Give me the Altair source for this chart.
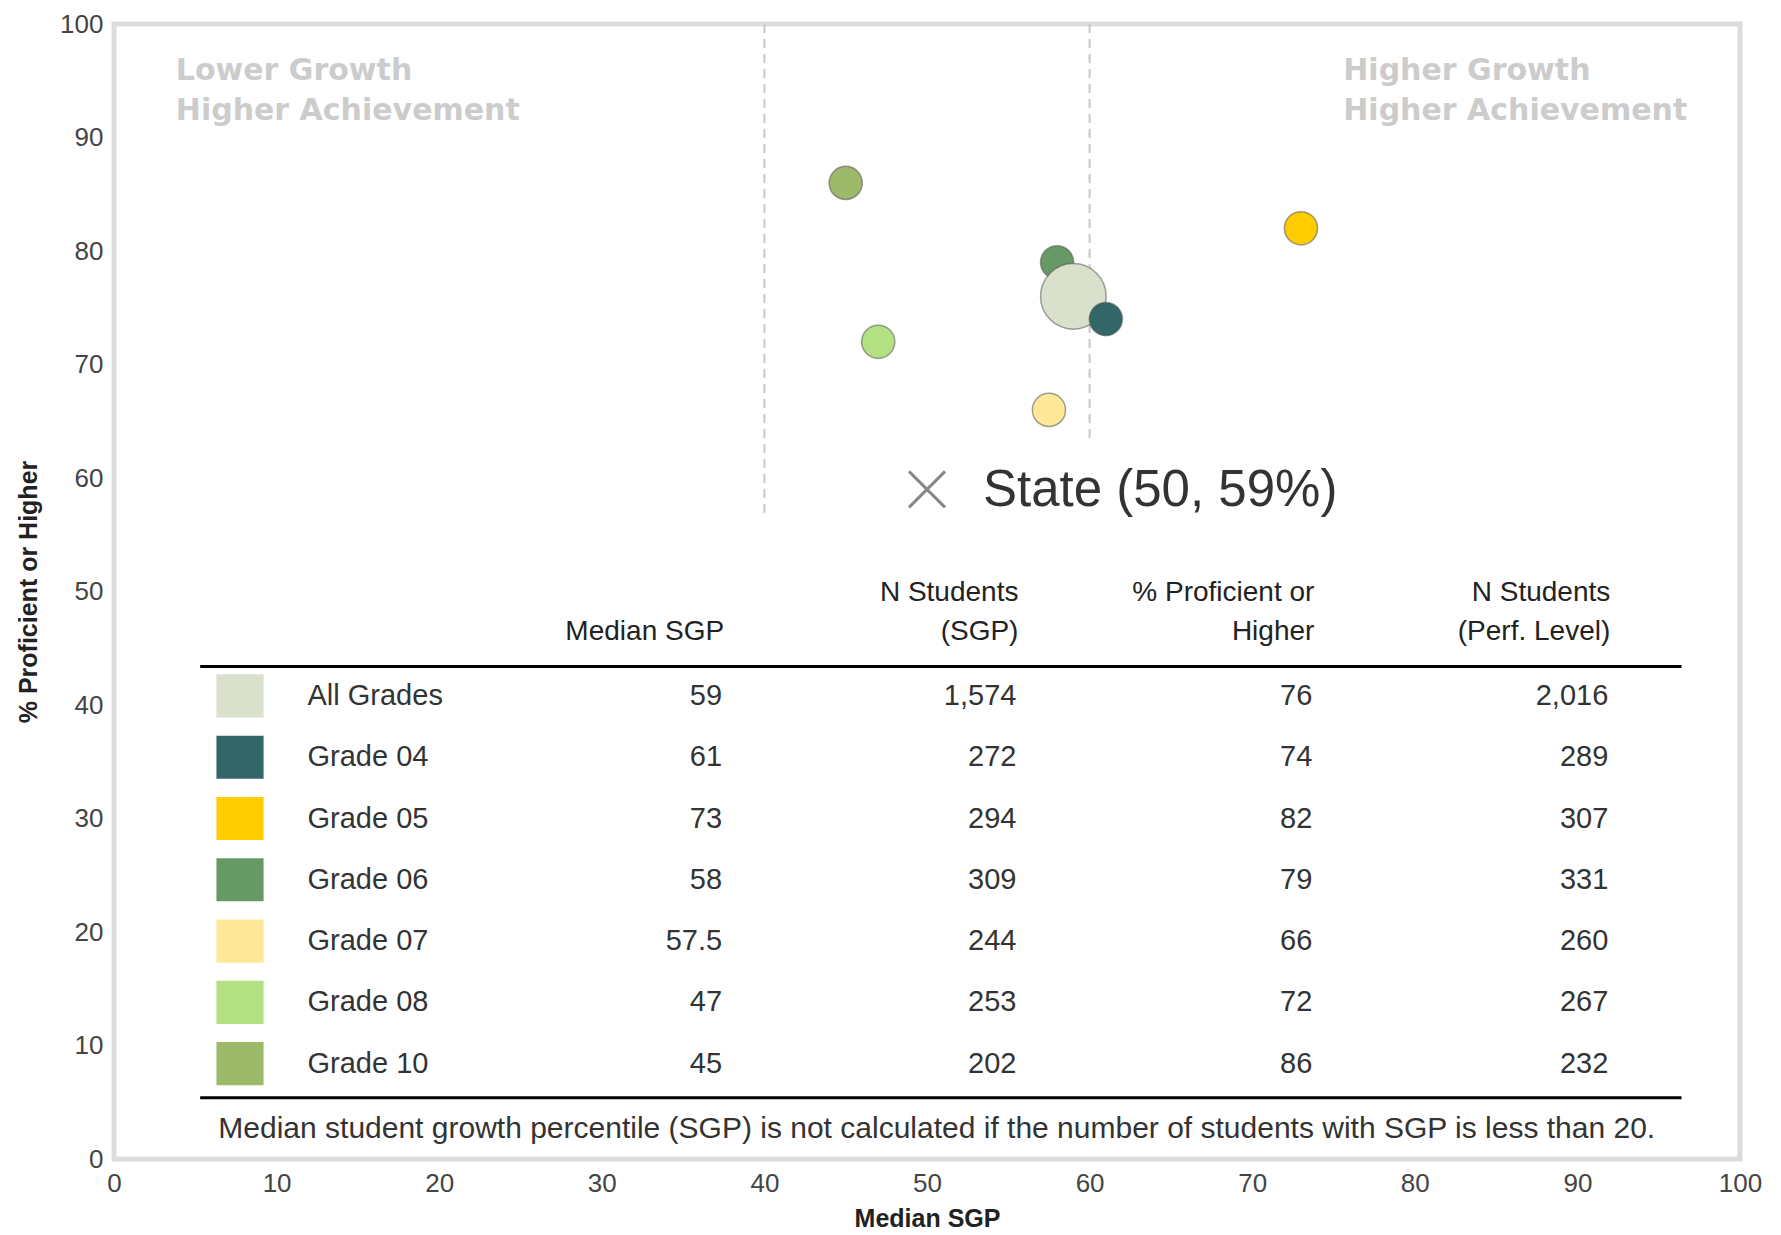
import altair as alt
import pandas as pd

# ---------------- data ----------------
grades = ["All Grades", "Grade 04", "Grade 05", "Grade 06", "Grade 07", "Grade 08", "Grade 10"]
median_sgp = [59, 61, 73, 58, 57.5, 47, 45]
n_students_sgp = [1574, 272, 294, 309, 244, 253, 202]
pct_proficient = [76, 74, 82, 79, 66, 72, 86]
n_students_perf = [2016, 289, 307, 331, 260, 267, 232]

state_sgp = 50
state_pct = 59

header_line1 = ["", "N Students", "% Proficient or", "N Students"]
header_line2 = ["Median SGP", "(SGP)", "Higher", "(Perf. Level)"]
footnote = "Median student growth percentile (SGP) is not calculated if the number of students with SGP is less than 20."
quad_left = ["Lower Growth", "Higher Achievement"]
quad_right = ["Higher Growth", "Higher Achievement"]
axis_ticks = list(range(0, 101, 10))

# ---------------- styles / layout ----------------
colors = ["#d9e0cc", "#336666", "#ffcc00", "#669966", "#ffe999", "#b3e183", "#9cba6a"]
draw_order = ["Grade 10", "Grade 05", "Grade 06", "All Grades", "Grade 04", "Grade 08", "Grade 07"]
FONT = "Liberation Sans, Arial, sans-serif"
QFONT = "DejaVu Sans, Verdana, sans-serif"
col_x = [37.4, 55.5, 73.7, 91.9]
row_top, row_step = 40.8, 5.4
hdr_y = [49.9, 46.4]

xs = alt.Scale(domain=[0, 100], nice=False, zero=False)
ys = alt.Scale(domain=[0, 100], nice=False, zero=False)
xaxis = alt.Axis(values=axis_ticks, title="Median SGP")
yaxis = alt.Axis(values=axis_ticks, title="% Proficient or Higher")


def X(f):
    return alt.X(f, scale=xs, axis=xaxis)


def Y(f):
    return alt.Y(f, scale=ys, axis=yaxis)


# points
pts = pd.DataFrame({
    "grade": grades,
    "x": median_sgp,
    "y": pct_proficient,
    "draw": [draw_order.index(g) for g in grades],
})
color_scale = alt.Scale(domain=grades, range=colors)

points = alt.Chart(pts).mark_circle(opacity=1, stroke="#555", strokeWidth=1.5, strokeOpacity=0.55).encode(
    x=X("x:Q"), y=Y("y:Q"),
    color=alt.Color("grade:N", scale=color_scale, legend=None),
    size=alt.condition(alt.datum.grade == "All Grades", alt.value(4300), alt.value(1100)),
    order=alt.Order("draw:Q"),
)

# dashed quadrant lines
dash_df = pd.DataFrame({"x": [40, 60], "y": [100, 100], "y2": [56.6, 63.1]})
dashes = alt.Chart(dash_df).mark_rule(color="#c8c8c8", strokeWidth=2, strokeDash=[9, 6]).encode(
    x=X("x:Q"), y=Y("y:Q"), y2="y2:Q"
)

# quadrant labels
q_df = pd.DataFrame({
    "x": [3.8, 3.8, 75.6, 75.6],
    "y": [95.9, 92.3, 95.9, 92.3],
    "t": quad_left + quad_right,
})
quads = alt.Chart(q_df).mark_text(
    align="left", baseline="middle", font=QFONT, fontSize=30, fontWeight="bold", color="#cccccc"
).encode(x=X("x:Q"), y=Y("y:Q"), text="t:N")

# state marker
st_df = pd.DataFrame({"x": [state_sgp], "y": [state_pct],
                      "t": [f"State ({state_sgp}, {state_pct}%)"]})
state_x = alt.Chart(st_df).mark_point(
    shape="M -1 -1 L 1 1 M -1 1 L 1 -1", filled=False, stroke="#888", strokeWidth=3, size=1300, opacity=1
).encode(x=X("x:Q"), y=Y("y:Q"))
state_t = alt.Chart(st_df).mark_text(
    align="left", baseline="middle", font=FONT, fontSize=51, color="#333", dx=56, dy=2
).encode(x=X("x:Q"), y=Y("y:Q"), text="t:N")

# table header
h_rows = []
for j in range(4):
    h_rows.append({"x": col_x[j], "y": hdr_y[0], "t": header_line1[j]})
    h_rows.append({"x": col_x[j], "y": hdr_y[1], "t": header_line2[j]})
h_df = pd.DataFrame(h_rows)
header = alt.Chart(h_df).mark_text(
    align="right", baseline="middle", font=FONT, fontSize=28, color="#222", dx=2
).encode(x=X("x:Q"), y=Y("y:Q"), text="t:N")

# table rules
r_df = pd.DataFrame({"x": [5.3, 5.3], "x2": [96.4, 96.4], "y": [43.4, 5.4]})
rules = alt.Chart(r_df).mark_rule(color="#000", strokeWidth=3).encode(
    x=X("x:Q"), x2="x2:Q", y=Y("y:Q")
)

# table rows
row_y = [row_top - i * row_step for i in range(len(grades))]
sw_df = pd.DataFrame({"grade": grades, "x": [6.3] * len(grades), "x2": [9.2] * len(grades),
                      "y": [v - 1.9 for v in row_y], "y2": [v + 1.9 for v in row_y]})
swatches = alt.Chart(sw_df).mark_rect().encode(
    x=X("x:Q"), x2="x2:Q", y=Y("y:Q"), y2="y2:Q",
    color=alt.Color("grade:N", scale=color_scale, legend=None),
)

lab_df = pd.DataFrame({"x": [11.9] * len(grades), "y": row_y, "t": grades})
labels = alt.Chart(lab_df).mark_text(
    align="left", baseline="middle", font=FONT, fontSize=29, color="#333"
).encode(x=X("x:Q"), y=Y("y:Q"), text="t:N")


def fmt(v):
    if isinstance(v, float) and not v.is_integer():
        return f"{v}"
    return f"{int(v):,}"


cols = [median_sgp, n_students_sgp, pct_proficient, n_students_perf]
v_rows = []
for j, col in enumerate(cols):
    for i, v in enumerate(col):
        v_rows.append({"x": col_x[j], "y": row_y[i], "t": fmt(v)})
v_df = pd.DataFrame(v_rows)
values = alt.Chart(v_df).mark_text(
    align="right", baseline="middle", font=FONT, fontSize=29, color="#333"
).encode(x=X("x:Q"), y=Y("y:Q"), text="t:N")

fn_df = pd.DataFrame({"x": [50.6], "y": [2.6], "t": [footnote]})
foot = alt.Chart(fn_df).mark_text(
    align="center", baseline="middle", font=FONT, fontSize=30, color="#333"
).encode(x=X("x:Q"), y=Y("y:Q"), text="t:N")

chart = alt.layer(
    dashes, quads, points, state_x, state_t, header, rules, swatches, labels, values, foot
).properties(
    width=1626, height=1135,
    padding={"left": 106, "top": 16, "right": 30, "bottom": 76},
    autosize="none",
).configure_view(
    stroke="#dcdcdc", strokeWidth=5
).configure_axis(
    labelFont=FONT, labelFontSize=26, labelColor="#444", ticks=False, domain=False, grid=False,
    labelPadding=11, labelFlush=False, labelOverlap=False,
    titleFont=FONT, titleFontSize=25, titleFontWeight="bold", titleColor="#222",
).configure_axisX(titlePadding=10).configure_axisY(titlePadding=18)

chart.save("out.html", embed_options={"renderer": "svg", "actions": False})
